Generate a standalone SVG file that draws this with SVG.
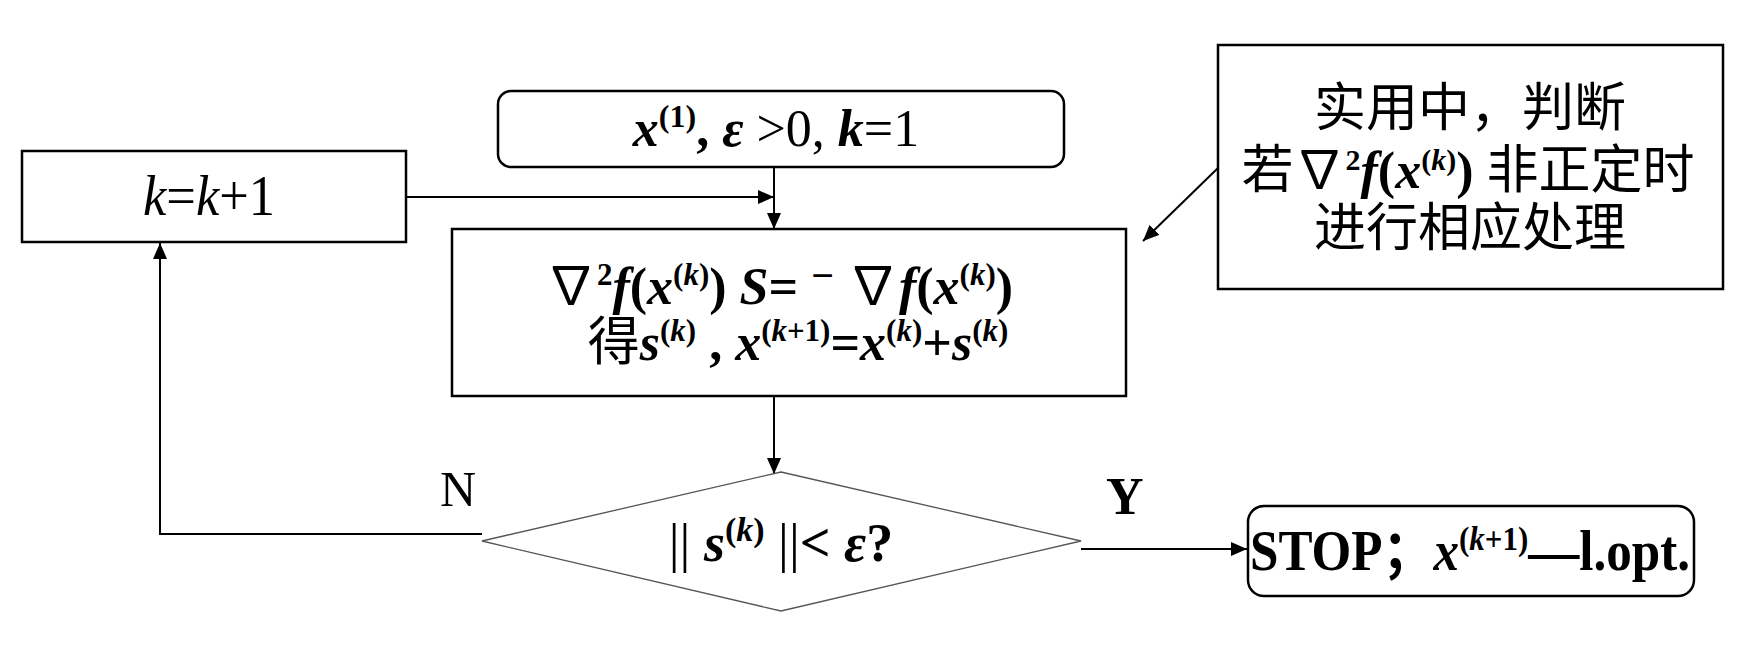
<svg xmlns="http://www.w3.org/2000/svg" width="1754" height="648" viewBox="0 0 1754 648">
<style>
.box{fill:#fff;stroke:#000;stroke-width:2.5}
.dia{fill:#fff;stroke:#555;stroke-width:1.3}
.ln{fill:none;stroke:#000;stroke-width:2}
.t{font-family:"Liberation Serif","Times New Roman","Noto Sans CJK SC",serif;fill:#000}
.c{font-family:"Noto Sans CJK SC","Liberation Serif",sans-serif;fill:#000}
.bi{font-weight:bold;font-style:italic}
.b{font-weight:bold}
.i{font-style:italic}
</style>
<defs>
<marker id="ah" markerUnits="userSpaceOnUse" markerWidth="16" markerHeight="14" refX="16" refY="7" orient="auto">
<path d="M0,0 L16,7 L0,14 Z" fill="#000"/>
</marker>
</defs>
<rect width="1754" height="648" fill="#fff"/>
<g id="connectors">
<line class="ln" x1="774" y1="167" x2="774" y2="229" marker-end="url(#ah)"/>
<line class="ln" x1="406" y1="197" x2="774" y2="197" marker-end="url(#ah)"/>
<line class="ln" x1="774" y1="396" x2="774" y2="474" marker-end="url(#ah)"/>
<polyline class="ln" points="482,534 160,534 160,243" marker-end="url(#ah)"/>
<line class="ln" x1="1081" y1="549" x2="1247" y2="549" marker-end="url(#ah)"/>
<line class="ln" x1="1218" y1="168" x2="1143" y2="241" marker-end="url(#ah)"/>
<text class="t" x="440" y="506" font-size="50">N</text>
<text class="t b" x="1106" y="514" font-size="52">Y</text>
</g>
<g id="start">
<rect class="box" x="498" y="91" width="566" height="76" rx="13"/>
<text class="t" x="776" y="146" text-anchor="middle" font-size="52"><tspan class="bi">x</tspan><tspan class="b" font-size="32" dy="-19">(1)</tspan><tspan class="b" dy="19">, </tspan><tspan class="bi">ε</tspan> &gt;0, <tspan class="bi">k</tspan>=1</text>
</g>
<g id="incr">
<rect class="box" x="22" y="151" width="384" height="91"/>
<text class="t" x="209" y="215" text-anchor="middle" font-size="56" textLength="132" lengthAdjust="spacingAndGlyphs"><tspan class="i">k</tspan>=<tspan class="i">k</tspan>+1</text>
</g>
<g id="solve">
<rect class="box" x="452" y="229" width="674" height="167"/>
<text class="t b" x="779" y="304" text-anchor="middle" font-size="52"><tspan font-weight="normal">∇</tspan><tspan font-size="31" dy="-19">2</tspan><tspan class="bi" dy="19">f</tspan>(<tspan class="bi">x</tspan><tspan font-size="31" dy="-19">(<tspan class="bi">k</tspan>)</tspan><tspan dy="19">) </tspan><tspan class="bi">S</tspan>= <tspan dy="-15" font-size="40">−</tspan><tspan dy="15"> </tspan><tspan font-weight="normal">∇</tspan><tspan class="bi">f</tspan>(<tspan class="bi">x</tspan><tspan font-size="31" dy="-19">(<tspan class="bi">k</tspan>)</tspan><tspan dy="19">)</tspan></text>
<text class="t b" x="798" y="360" text-anchor="middle" font-size="52"><tspan class="c" font-weight="normal">得</tspan><tspan class="bi">s</tspan><tspan font-size="31" dy="-19">(<tspan class="bi">k</tspan>)</tspan><tspan dy="19"> , </tspan><tspan class="bi">x</tspan><tspan font-size="31" dy="-19">(<tspan class="bi">k</tspan>+1)</tspan><tspan dy="19">=</tspan><tspan class="bi">x</tspan><tspan font-size="31" dy="-19">(<tspan class="bi">k</tspan>)</tspan><tspan dy="19">+</tspan><tspan class="bi">s</tspan><tspan font-size="31" dy="-19">(<tspan class="bi">k</tspan>)</tspan></text>
</g>
<g id="note">
<rect class="box" x="1218" y="45" width="505" height="244"/>
<text class="c" x="1470" y="126" text-anchor="middle" font-size="52">实用中，判断</text>
<text class="c" x="1468" y="188" text-anchor="middle" font-size="52">若<tspan class="t">∇</tspan><tspan class="t b" font-size="30" dy="-18">2</tspan><tspan class="t bi" dy="18">f</tspan><tspan class="t b">(</tspan><tspan class="t bi">x</tspan><tspan class="t b" font-size="30" dy="-18">(<tspan class="i">k</tspan>)</tspan><tspan class="t b" dy="18">) </tspan>非正定时</text>
<text class="c" x="1470" y="246" text-anchor="middle" font-size="52">进行相应处理</text>
</g>
<g id="decision">
<polygon class="dia" points="781,472 1081,541 781,611 482,541"/>
<text class="t" x="781" y="561" text-anchor="middle" font-size="54">|| <tspan class="bi">s</tspan><tspan class="b" font-size="34" dy="-20">(<tspan class="i">k</tspan>)</tspan><tspan dy="20"> ||</tspan><tspan class="b">&lt; </tspan><tspan class="bi">ε</tspan><tspan class="b">?</tspan></text>
</g>
<g id="stop">
<rect class="box" x="1248" y="506" width="446" height="90" rx="16"/>
<text class="t b" x="1250" y="570" font-size="56" textLength="440" lengthAdjust="spacingAndGlyphs">STOP；<tspan class="bi">x</tspan><tspan font-size="34" dy="-20">(<tspan class="i">k</tspan>+1)</tspan><tspan dy="20">—l.opt.</tspan></text>
</g>
</svg>
